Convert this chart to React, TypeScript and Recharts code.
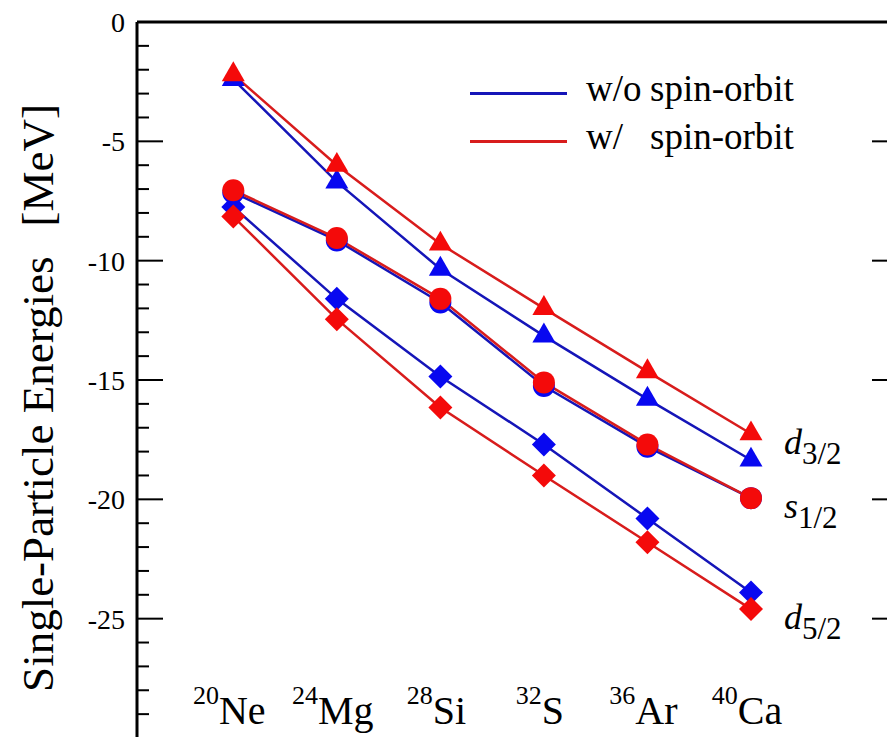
import React from "react";
import { Legend, Line, LineChart, XAxis, YAxis } from "recharts";

const nuclei = ["Ne", "Mg", "Si", "S", "Ar", "Ca"];
const massNumbers = ["20", "24", "28", "32", "36", "40"];

// single-particle energies in MeV, without / with the spin-orbit force
const d32NoSO = [-2.4, -6.7, -10.35, -13.15, -15.8, -18.35];
const d32SO = [-2.2, -6.0, -9.3, -12.0, -14.65, -17.25];
const s12NoSO = [-7.15, -9.15, -11.75, -15.25, -17.8, -19.95];
const s12SO = [-7.05, -9.05, -11.6, -15.1, -17.7, -19.95];
const d52NoSO = [-7.75, -11.6, -14.85, -17.7, -20.8, -23.9];
const d52SO = [-8.15, -12.45, -16.15, -19.0, -21.8, -24.6];

const xTicks = [0, 1, 2, 3, 4, 5];
const yMajorTicks = [0, -5, -10, -15, -20, -25];
const yMinorTicks = [
  -1, -2, -3, -4, -6, -7, -8, -9, -11, -12, -13, -14, -16, -17, -18, -19, -21,
  -22, -23, -24, -26, -27, -28, -29,
];

const BLUE_LINE = "#1515b8";
const BLUE_MARK = "#0808f0";
const RED_LINE = "#d81c1c";
const RED_MARK = "#f40a0a";
const FONT = "Liberation Serif, Tinos, DejaVu Serif, Noto Serif, serif";

const legendItems = [
  { label: "w/o", text: "spin-orbit", color: BLUE_LINE },
  { label: "w/", text: "spin-orbit", color: RED_LINE },
];

const data = nuclei.map((name, i) => ({
  idx: xTicks[i],
  name,
  mass: massNumbers[i],
  d32NoSO: d32NoSO[i],
  d32SO: d32SO[i],
  s12NoSO: s12NoSO[i],
  s12SO: s12SO[i],
  d52NoSO: d52NoSO[i],
  d52SO: d52SO[i],
}));

type Shape = "triangle" | "circle" | "diamond";

function makeDot(shape: Shape, color: string) {
  return (props: any) => {
    const { cx, cy, index } = props;
    const key = `dot-${shape}-${color}-${index}`;
    if (cx == null || cy == null) return <g key={key} />;
    if (shape === "circle") {
      return <circle key={key} cx={cx} cy={cy} r={11} fill={color} />;
    }
    if (shape === "diamond") {
      const r = 12;
      return (
        <polygon
          key={key}
          points={`${cx},${cy - r} ${cx + r},${cy} ${cx},${cy + r} ${cx - r},${cy}`}
          fill={color}
        />
      );
    }
    const s = 23;
    const h = s * 0.866;
    return (
      <polygon
        key={key}
        points={`${cx},${cy - (2 * h) / 3} ${cx - s / 2},${cy + h / 3} ${cx + s / 2},${cy + h / 3}`}
        fill={color}
      />
    );
  };
}

function makeEndLabel(letter: string, sub: string) {
  return (props: any) => {
    const { x, y, index } = props;
    if (index !== nuclei.length - 1) return <g key={`lbl-${index}`} />;
    return (
      <text key="end" x={x + 33} y={y + 20} fontFamily={FONT} fontSize={36} fill="#000">
        <tspan fontStyle="italic">{letter}</tspan>
        <tspan fontSize={31} dy={10}>
          {sub}
        </tspan>
      </text>
    );
  };
}

const NucleusTick = (props: any) => {
  const { x, y, payload } = props;
  const i = payload.value;
  return (
    <text x={x - 4} y={y - 6} textAnchor="middle" fontFamily={FONT} fill="#000">
      <tspan fontSize={26} dy={-20}>
        {massNumbers[i]}
      </tspan>
      <tspan fontSize={40} dy={20}>
        {nuclei[i]}
      </tspan>
    </text>
  );
};

const emptyTick = () => <g />;

const renderTitle = (props: any) => {
  const vb = props.viewBox || { x: 0, y: 22, width: 137, height: 716 };
  const cx = vb.x + 53;
  const cy = vb.y + vb.height / 2 + 18;
  return (
    <text
      transform={`translate(${cx}, ${cy}) rotate(-90)`}
      textAnchor="middle"
      fontFamily={FONT}
      fontSize={45}
      fill="#000"
    >
      <tspan>Single-Particle Energies</tspan>
      <tspan dx={30}>[MeV]</tspan>
    </text>
  );
};

const renderLegend = () => (
  <div style={{ fontFamily: FONT, fontSize: 37, lineHeight: "48px", color: "#000" }}>
    {legendItems.map((item) => (
      <div key={item.label} style={{ display: "flex", alignItems: "center", whiteSpace: "pre" }}>
        <span
          style={{
            display: "inline-block",
            width: 97,
            height: 3,
            background: item.color,
            marginRight: 19,
            flex: "none",
          }}
        />
        <span
          style={{ display: "inline-block", width: 64, flex: "none", position: "relative", top: -4 }}
        >
          {item.label}
        </span>
        <span style={{ position: "relative", top: -4 }}>{item.text}</span>
      </div>
    ))}
  </div>
);

const X_DOMAIN = [-0.93, 6.42];
const Y_DOMAIN = [-30, 0];

// inward tick marks drawn by extra mirrored axes sharing the same scale
const frameAxes = [
  { id: "leftMajor", orientation: "left", ticks: yMajorTicks, size: 26 },
  { id: "leftMinor", orientation: "left", ticks: yMinorTicks, size: 11 },
  { id: "rightMajor", orientation: "right", ticks: yMajorTicks, size: 26 },
];

export default function App() {
  return (
    <div
      style={{
        position: "fixed",
        left: 0,
        top: 0,
        width: 887,
        height: 737,
        overflow: "hidden",
        background: "#fff",
      }}
    >
      <LineChart
        width={920}
        height={760}
        data={data}
        margin={{ top: 21, right: 22, bottom: 22, left: 0 }}
        style={{ fontFamily: FONT }}
      >
        <XAxis
          dataKey="idx"
          type="number"
          domain={X_DOMAIN}
          ticks={xTicks}
          interval={0}
          orientation="bottom"
          mirror
          axisLine={false}
          tickLine={false}
          tick={NucleusTick}
        />
        <XAxis
          xAxisId="top"
          dataKey="idx"
          type="number"
          domain={X_DOMAIN}
          orientation="top"
          height={1}
          ticks={xTicks}
          tick={emptyTick}
          tickLine={false}
          axisLine={{ stroke: "#000", strokeWidth: 3 }}
        />
        <YAxis
          dataKey="d52SO"
          type="number"
          domain={Y_DOMAIN}
          ticks={yMajorTicks}
          interval={0}
          width={137}
          tickLine={false}
          tickSize={0}
          tickMargin={12}
          axisLine={{ stroke: "#000", strokeWidth: 3 }}
          tick={{ fill: "#000", fontSize: 28, fontFamily: FONT }}
          label={renderTitle}
        />
        {frameAxes.map((a) => (
          <YAxis
            key={a.id}
            yAxisId={a.id}
            dataKey="d52SO"
            orientation={a.orientation as "left" | "right"}
            type="number"
            domain={Y_DOMAIN}
            ticks={a.ticks}
            interval={0}
            mirror
            width={1}
            axisLine={false}
            tickSize={a.size}
            tickLine={{ stroke: "#000", strokeWidth: 2 }}
            tick={emptyTick}
          />
        ))}
        <Legend
          layout="vertical"
          align="center"
          verticalAlign="middle"
          wrapperStyle={{ left: 470, top: 69, width: 400 }}
          content={renderLegend}
        />

        <Line dataKey="d32NoSO" stroke={BLUE_LINE} strokeWidth={2.5} dot={makeDot("triangle", BLUE_MARK)} activeDot={false} isAnimationActive={false} />
        <Line dataKey="s12NoSO" stroke={BLUE_LINE} strokeWidth={2.5} dot={makeDot("circle", BLUE_MARK)} activeDot={false} isAnimationActive={false} />
        <Line dataKey="d52NoSO" stroke={BLUE_LINE} strokeWidth={2.5} dot={makeDot("diamond", BLUE_MARK)} activeDot={false} isAnimationActive={false} />
        <Line dataKey="d32SO" stroke={RED_LINE} strokeWidth={2.5} dot={makeDot("triangle", RED_MARK)} activeDot={false} isAnimationActive={false} label={makeEndLabel("d", "3/2")} />
        <Line dataKey="s12SO" stroke={RED_LINE} strokeWidth={2.5} dot={makeDot("circle", RED_MARK)} activeDot={false} isAnimationActive={false} label={makeEndLabel("s", "1/2")} />
        <Line dataKey="d52SO" stroke={RED_LINE} strokeWidth={2.5} dot={makeDot("diamond", RED_MARK)} activeDot={false} isAnimationActive={false} label={makeEndLabel("d", "5/2")} />
      </LineChart>
    </div>
  );
}
